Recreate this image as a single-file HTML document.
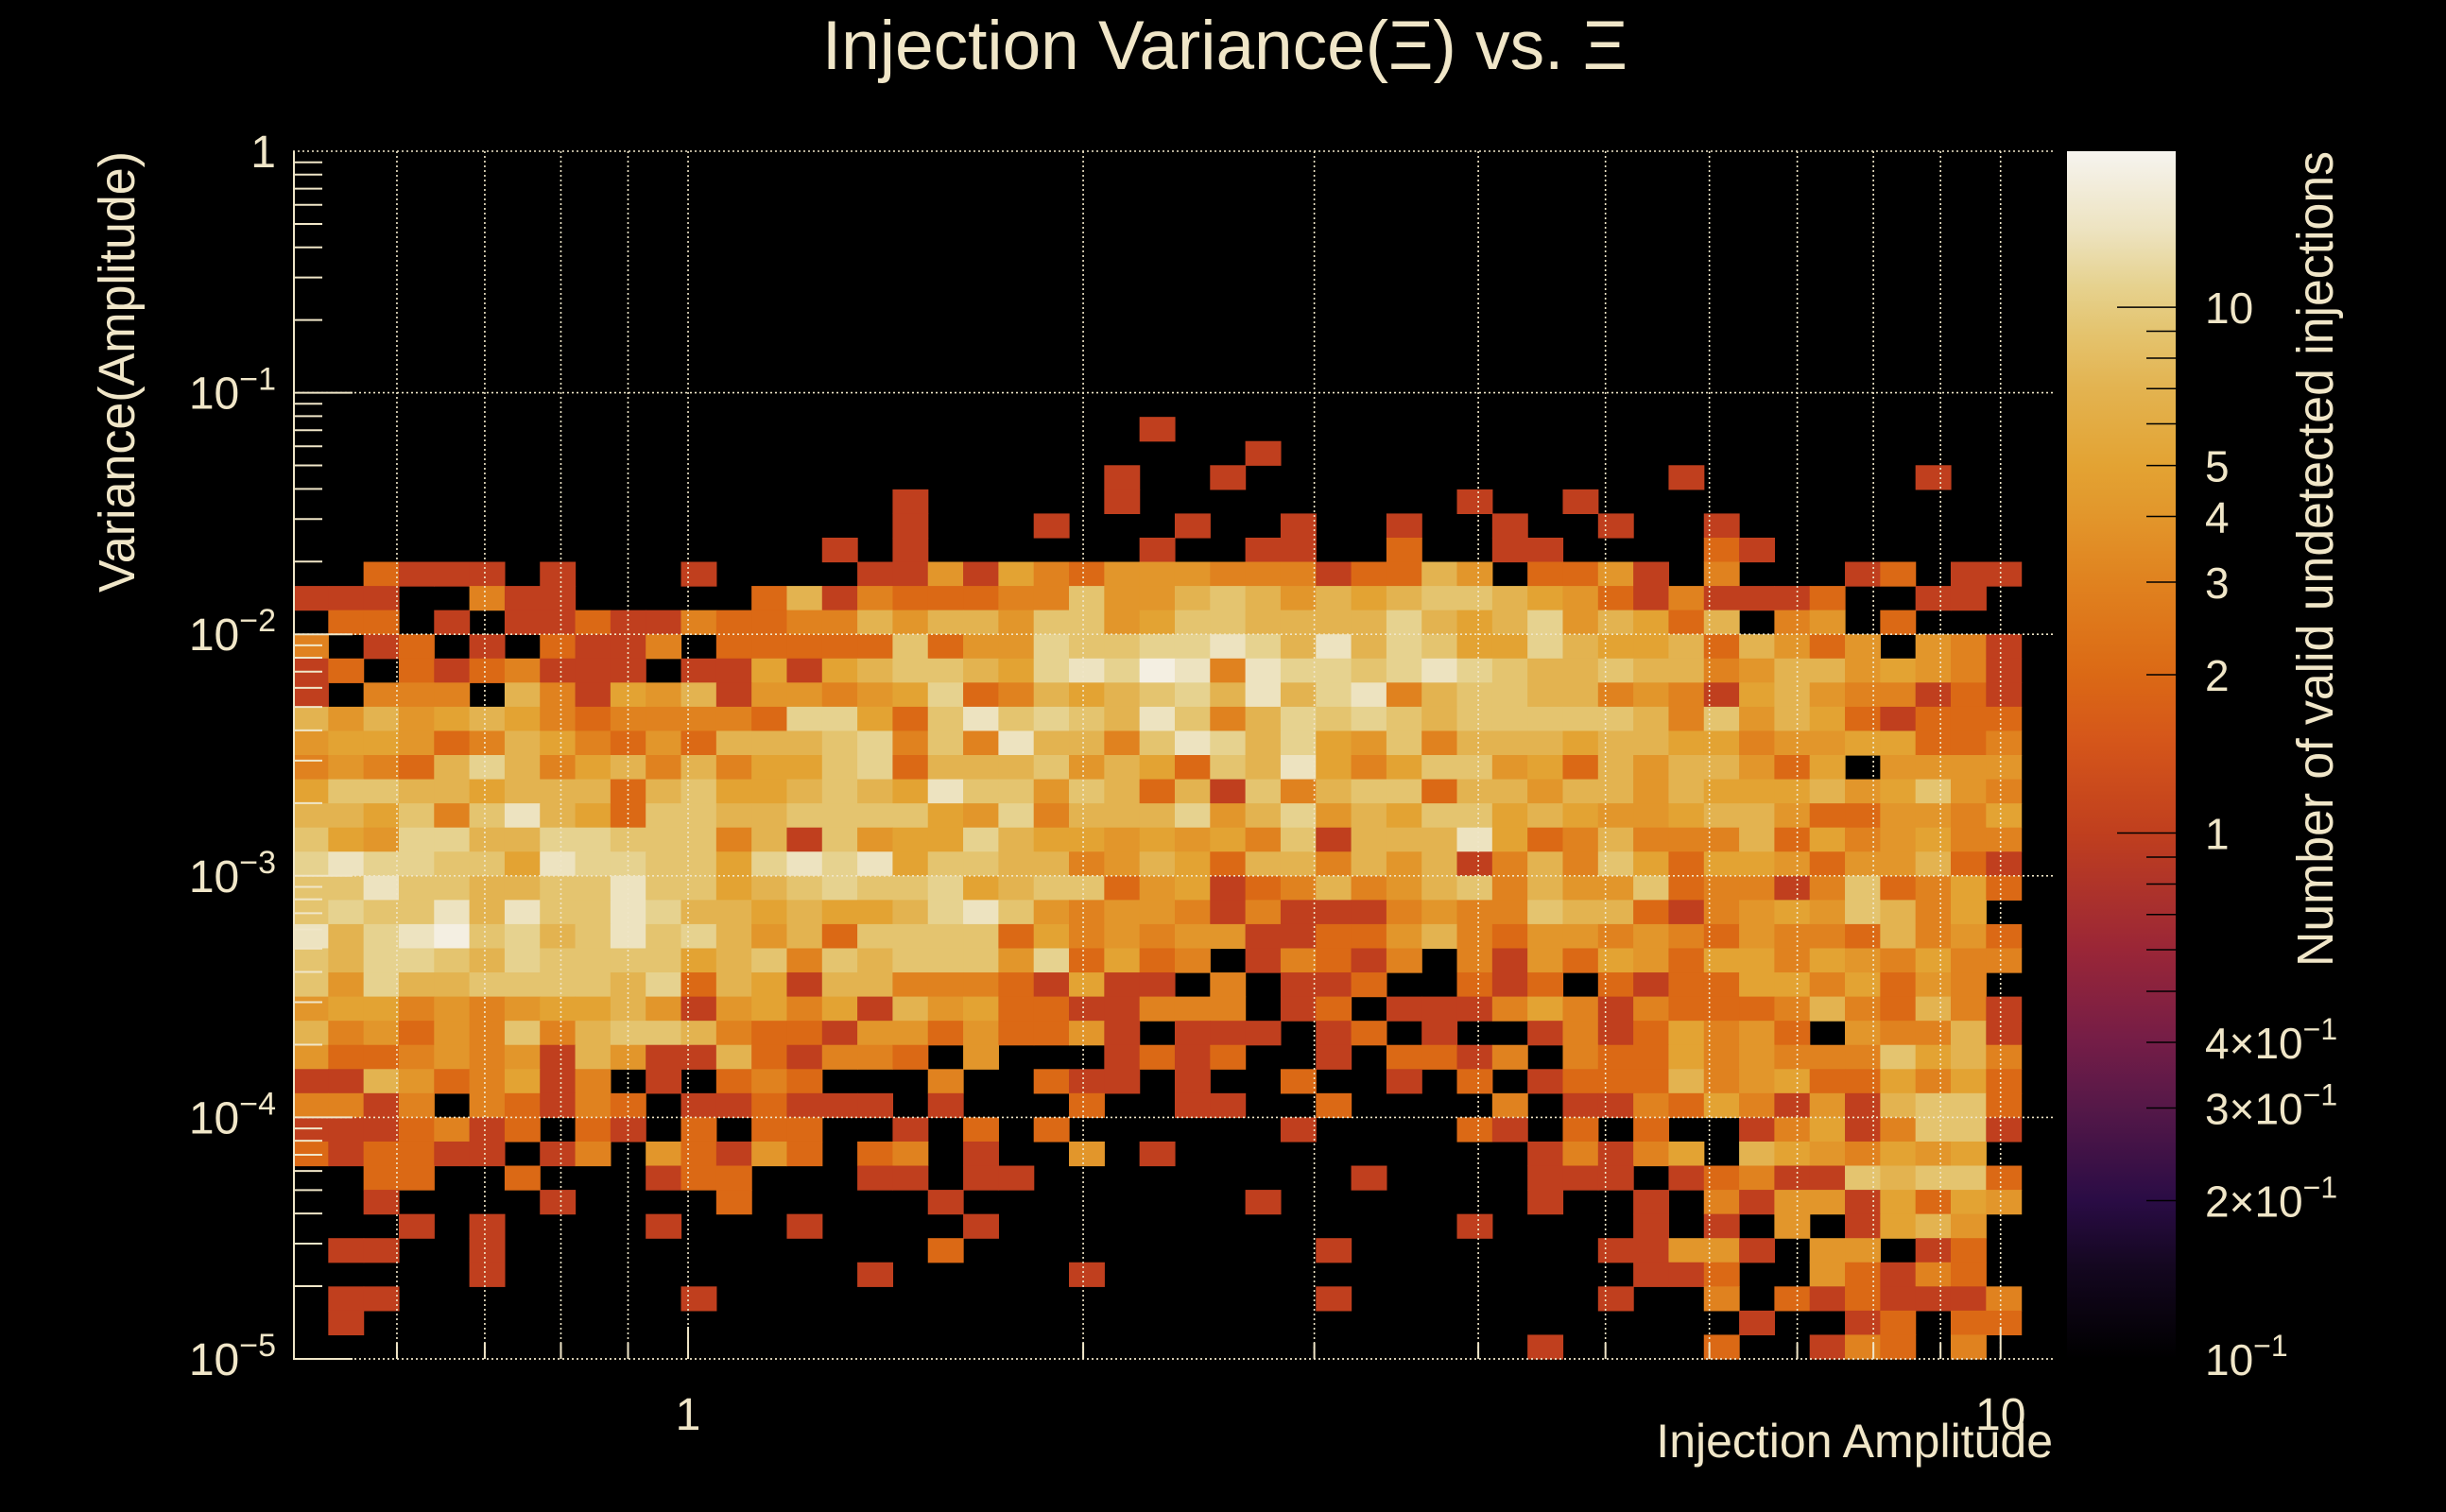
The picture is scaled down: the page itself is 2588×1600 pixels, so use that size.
<!DOCTYPE html>
<html><head><meta charset="utf-8">
<style>
html,body{margin:0;padding:0;background:#000;}
svg{display:block;font-family:"Liberation Sans",sans-serif;}
</style></head>
<body>
<svg id="chart" xmlns="http://www.w3.org/2000/svg" width="2588" height="1600" viewBox="0 0 2588 1600">
<rect x="0" y="0" width="2588" height="1600" fill="#000"/>
<text x="1296" y="73" text-anchor="middle" font-size="73" fill="#f0e6c8">Injection Variance(Ξ) vs. Ξ</text>
<g id="cells"></g>
<g id="grid"></g>
<g id="axes"></g>
<g id="cbar"></g>
<text x="2172" y="1542" text-anchor="end" font-size="50" fill="#f0e6c8">Injection Amplitude</text>
<text transform="translate(142,627) rotate(-90)" x="0" y="0" font-size="54" fill="#f0e6c8" textLength="467" lengthAdjust="spacingAndGlyphs">Variance(Amplitude)</text>
<text transform="translate(2468,1023) rotate(-90)" x="0" y="0" font-size="54" fill="#f0e6c8" textLength="863" lengthAdjust="spacingAndGlyphs">Number of valid undetected injections</text>
</svg>
<script>
// Data: rows from top (variance 10^-1.1..10^-1) down to bottom (10^-5..10^-4.9); one char per amplitude bin
const countRows = [
"0000000000000000000000000000000000000000000000000",
"0000000000000000000000001000000000000000000000000",
"0000000000000000000000000001000000000000000000000",
"0000000000000000000000010010000000000001000000100",
"0000000000000000010000010000000001001000000000000",
"0000000000000000010001000100100100100100100000000",
"0000000000000001010000001001100200110000210000000",
"00211101000100001"+"14153244433312264"+"022410300012011",
"11100311000002613"+"22233744676465677"+"654213111200110",
"02201011211322336"+"46647745776666865"+"684652603402000",
"30120102113022222"+"72448778898696875"+"586556264240431",
"12021231110115156"+"7765898a939887898"+"766766346645431",
"10333063154614434"+"58236567869689367"+"766343156433121",
"64645653233332885"+"27978769736878767"+"777763746521222",
"45542365324266678"+"37396637986854736"+"665665534455223",
"34326863563635578"+"26667465276953577"+"452646642504444",
"57766566626755676"+"59774762617367726"+"646646555645743",
"66573796527766777"+"75483666846846577"+"565445664224435",
"75488668877736174"+"55865545453716669"+"523633362534533",
"89887759887758989"+"57766346526636461"+"363752554244621",
"77977667797756787"+"78567724512363467"+"364472331372352",
"78779697798665655"+"68974344313111343"+"376621345476350",
"9689a786797864627"+"77725343441122463"+"244343243326342",
"76887687777567376"+"77748252301321303"+"142542553543533",
"74866777768265166"+"33321511030112002"+"120212255352430",
"45534345564145351"+"64522113330120111"+"353132223632631",
"63424373677632214"+"42422410111012010"+"013125342043361",
"42234341641162133"+"20400012120010221"+"303225343337563",
"11642351301023200"+"03002110100200102"+"012226345225352",
"33130321320112111"+"01000200110020000"+"301132531416772",
"11123120210202200"+"10202000000100002"+"102020013513771",
"21221101304214202"+"30100401000000000"+"013135065435450",
"00220020001220001"+"10110000000001000"+"011101231176772",
"00100001000020000"+"01000000001000000"+"010010314415254",
"00010100001000100"+"00100000000000001"+"000010104015640",
"01100100000000000"+"02000000000010000"+"000114410440120",
"00000100000000001"+"00000100000000000"+"000011200421320",
"01100000000100000"+"00000000000010000"+"000100302121113",
"01000000000000000"+"00000000000000000"+"000000010012022",
"00000000000000000"+"00000000000000000"+"010000200132030"
];
// count represented by each code character
const levelCounts = [0,1,2,3,4,5,7,9,11,14,18];
const xTickValues = [1,10];
const xTickLabels = ["1","10"];
const yTickExponents = [0,-1,-2,-3,-4,-5];
const cbTickValues = [10,5,4,3,2,1,0.4,0.3,0.2,0.1];
const cbTickLabels = ["10","5","4","3","2","1","4×10","3×10","2×10","10"];
const cbTickSup = ["","","","","","","−1","−1","−1","−1"];

const NS = "http://www.w3.org/2000/svg";
const PL = 310, PR = 2172, PT = 160, PB = 1438;
const XMIN = 0.5, XMAX = 10.96, BINXMIN = 0.5, BINXMAX = 10.37;
const YMIN = 1e-5, YMAX = 1, BINYMIN = 1e-5, BINYMAX = 1e-1;
const ZMIN = 0.1, ZMAX = 19.8;
const CBL = 2187, CBR = 2302;
const TXT = "#f0e6c8";
function xs(v){return PL + (Math.log10(v)-Math.log10(XMIN))/(Math.log10(XMAX)-Math.log10(XMIN))*(PR-PL);}
function ys(v){return PB - (Math.log10(v)-Math.log10(YMIN))/(Math.log10(YMAX)-Math.log10(YMIN))*(PB-PT);}
function zs(v){return PB - (Math.log10(v)-Math.log10(ZMIN))/(Math.log10(ZMAX)-Math.log10(ZMIN))*(PB-PT);}
const stops = [[0.1,'#000000'],[0.15,'#140720'],[0.2,'#2a0c45'],[0.3,'#551848'],[0.4,'#741d47'],[0.6,'#9a2637'],[1,'#c03f1e'],[1.5,'#d5561a'],[2,'#db6915'],[3,'#e0821f'],[4,'#e2962b'],[5,'#e3a333'],[7,'#e3b350'],[9,'#e4c46f'],[11,'#e6d28f'],[14,'#ede3c0'],[19.8,'#f6f4ef']];
function hex(c){return [parseInt(c.substr(1,2),16),parseInt(c.substr(3,2),16),parseInt(c.substr(5,2),16)];}
function colorFor(v){
  const lv=Math.log10(v);
  if(v<=stops[0][0])return stops[0][1];
  for(let i=1;i<stops.length;i++){
    if(v<=stops[i][0]){
      const a=Math.log10(stops[i-1][0]),b=Math.log10(stops[i][0]);const t=(lv-a)/(b-a);
      const c1=hex(stops[i-1][1]),c2=hex(stops[i][1]);
      return 'rgb('+c1.map((q,k)=>Math.round(q+(c2[k]-q)*t)).join(',')+')';
    }
  }
  return stops[stops.length-1][1];
}
function mk(tag,attrs,parent){const e=document.createElementNS(NS,tag);for(const k in attrs)e.setAttribute(k,attrs[k]);parent.appendChild(e);return e;}

// cells
const gCells=document.getElementById('cells');
const nRows=countRows.length, nCols=countRows[0].length;
const lxMin=Math.log10(BINXMIN), lxMax=Math.log10(BINXMAX), lyMin=Math.log10(BINYMIN), lyMax=Math.log10(BINYMAX);
for(let r=0;r<nRows;r++){
  const row=countRows[r];
  for(let c=0;c<nCols;c++){
    const code=parseInt(row[c],16);
    const n=levelCounts[code];
    if(!n)continue;
    const x0=Math.pow(10,lxMin+(lxMax-lxMin)*c/nCols), x1=Math.pow(10,lxMin+(lxMax-lxMin)*(c+1)/nCols);
    const yTop=Math.pow(10,lyMax-(lyMax-lyMin)*r/nRows), yBot=Math.pow(10,lyMax-(lyMax-lyMin)*(r+1)/nRows);
    const el=mk('rect',{x:xs(x0).toFixed(2),y:ys(yTop).toFixed(2),width:(xs(x1)-xs(x0)+0.6).toFixed(2),height:(ys(yBot)-ys(yTop)+0.6).toFixed(2),fill:colorFor(n)},gCells);
    
    
  }
}

// grid
const gGrid=document.getElementById('grid');
const xGridVals=[0.6,0.7,0.8,0.9,1,2,3,4,5,6,7,8,9,10];
xGridVals.forEach(v=>{
  const el=mk('line',{x1:xs(v),x2:xs(v),y1:PT,y2:PB,stroke:TXT,'stroke-width':1.6,'stroke-dasharray':'2 3'},gGrid);
  
  
});
yTickExponents.forEach(e=>{
  const y=ys(Math.pow(10,e));
  const el=mk('line',{x1:PL,x2:PR,y1:y,y2:y,stroke:TXT,'stroke-width':1.6,'stroke-dasharray':'2 3'},gGrid);
  
  
});

// axes
const gAx=document.getElementById('axes');
const fr=mk('rect',{x:PL,y:PT,width:PR-PL,height:PB-PT,fill:'none',stroke:'none'},gAx);


const yl=mk('line',{x1:PL+1,x2:PL+1,y1:PT,y2:PB,stroke:TXT,'stroke-width':2},gAx);


const xl=mk('line',{x1:PL,x2:PR,y1:PB,y2:PB,stroke:TXT,'stroke-width':1.6,'stroke-dasharray':'2 3'},gAx);


// y ticks
for(let e=-5;e<0;e++){
  for(let m=1;m<10;m++){
    const y=ys(m*Math.pow(10,e));
    const len=(m===1)?63:31;
    const t=mk('line',{x1:PL,x2:PL+len,y1:y,y2:y,stroke:TXT,'stroke-width':2},gAx);
    
    
  }
}
yTickExponents.forEach(e=>{
  const y=ys(Math.pow(10,e));
  const t=mk('text',{x:292,y:y+17,'text-anchor':'end','font-size':48,fill:TXT},gAx);
  
  
  if(e===0){t.textContent='1';}
  else{
    t.appendChild(document.createTextNode('10'));
    const s=mk('tspan',{dy:-20,'font-size':34},t);s.textContent='−'+(-e);
  }
});
// x ticks
xGridVals.forEach(v=>{
  const major=(v===1||v===10);
  const t=mk('line',{x1:xs(v),x2:xs(v),y1:PB,y2:PB-(major?34:17),stroke:TXT,'stroke-width':2},gAx);
  
  
});
xTickValues.forEach((v,i)=>{
  const t=mk('text',{x:xs(v),y:1513,'text-anchor':'middle','font-size':48,fill:TXT},gAx);
  t.textContent=xTickLabels[i];
  
  
});

// colorbar
const gCb=document.getElementById('cbar');
const defs=mk('defs',{},gCb);
const grad=mk('linearGradient',{id:'cbg',x1:0,y1:1,x2:0,y2:0},defs);
stops.forEach(s=>{
  const off=(Math.log10(s[0])-Math.log10(ZMIN))/(Math.log10(ZMAX)-Math.log10(ZMIN));
  mk('stop',{offset:Math.max(0,Math.min(1,off)),'stop-color':s[1]},grad);
});
const cbr=mk('rect',{x:CBL,y:PT,width:CBR-CBL,height:PB-PT,fill:'url(#cbg)'},gCb);


const cbMinor=[0.2,0.3,0.4,0.5,0.6,0.7,0.8,0.9,1,2,3,4,5,6,7,8,9,10];
cbMinor.forEach(v=>{
  const y=zs(v);const major=(v===1||v===10);
  const t=mk('line',{x1:CBR-(major?62:31),x2:CBR,y1:y,y2:y,stroke:'#000','stroke-width':1.5},gCb);
  
  
});
cbTickValues.forEach((v,i)=>{
  const y=zs(v);
  const t=mk('text',{x:2333,y:y+17,'font-size':46,fill:TXT},gCb);
  
  
  t.appendChild(document.createTextNode(cbTickLabels[i]));
  if(cbTickSup[i]){const s=mk('tspan',{dy:-20,'font-size':32},t);s.textContent=cbTickSup[i];}
});
</script>
</body></html>
